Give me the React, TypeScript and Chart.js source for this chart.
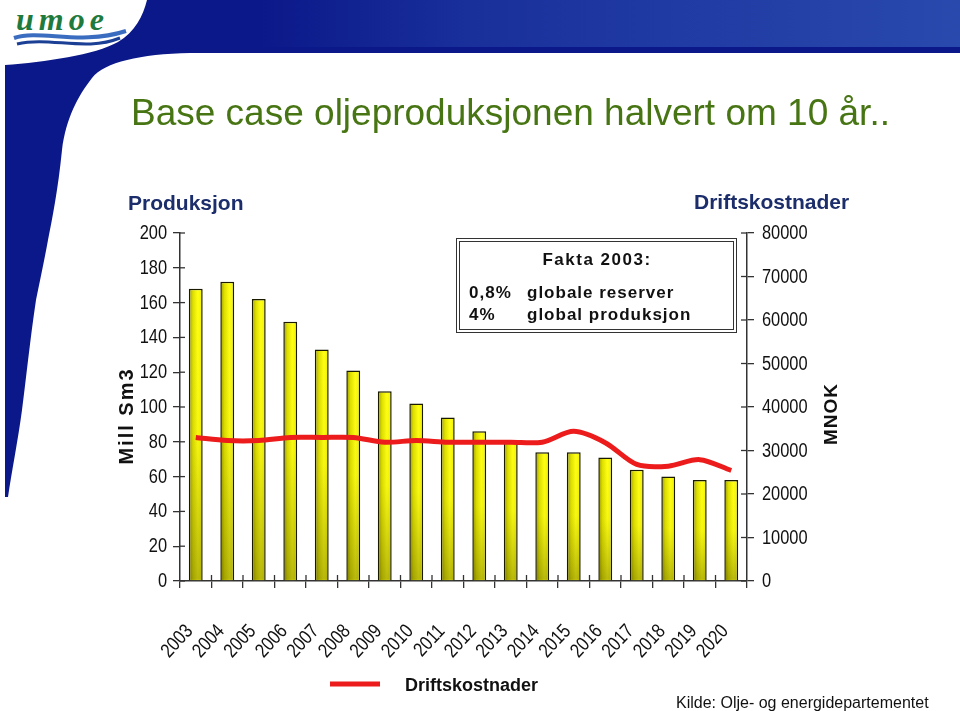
import React, { useEffect, useRef } from "react";
import { Chart, registerables } from "chart.js";

Chart.register(...registerables);

// ---------- data ----------
const years = ["2003", "2004", "2005", "2006", "2007", "2008", "2009", "2010", "2011", "2012", "2013", "2014", "2015", "2016", "2017", "2018", "2019", "2020"];
const produksjon = [168, 172, 162, 149, 133, 121, 109, 102, 94, 86, 80, 74, 74, 71, 64, 60, 58, 58];
const driftskostnader = [33000, 32300, 32300, 33000, 33000, 33000, 31900, 32300, 31900, 31900, 31900, 31900, 34400, 31800, 26800, 26400, 27900, 25400];
const leftMax = 200;
const leftStep = 20;
const rightMax = 80000;
const rightStep = 10000;

const titleText = "Base case oljeproduksjonen halvert om 10 år..";
const leftHeader = "Produksjon";
const rightHeader = "Driftskostnader";
const leftAxisTitle = "Mill Sm3";
const rightAxisTitle = "MNOK";
const faktaTitle = "Fakta 2003:";
const faktaRows = [
  ["0,8%", "globale reserver"],
  ["4%", "global produksjon"],
];
const sourceText = "Kilde: Olje- og energidepartementet";

// ---------- style ----------
const AXIS = "#333333";
const SANS = '"Liberation Sans", Arial, sans-serif';
const NARROW_SCALE = 0.82;
const BAR_PCT = 0.44;
const RED = "#ec1c1c";

function barFill(c: any) {
  const chart = c.chart;
  const xs = chart.scales ? chart.scales.x : null;
  const ca = chart.chartArea;
  if (!xs || !ca || c.dataIndex == null) return "#e6e600";
  const cx = xs.getPixelForValue(c.dataIndex);
  const cw = (ca.right - ca.left) / years.length;
  const half = (cw * BAR_PCT) / 2;
  const g = chart.ctx.createLinearGradient(cx - half, 0, cx + half, 0);
  g.addColorStop(0, "#9a9a00");
  g.addColorStop(0.3, "#e0e000");
  g.addColorStop(0.65, "#ffff14");
  g.addColorStop(1, "#f0f000");
  return g;
}

function narrowText(ctx: any, text: string, x: number, y: number, align: string, rot = 0) {
  ctx.save();
  ctx.translate(x, y);
  if (rot) ctx.rotate(rot);
  ctx.scale(NARROW_SCALE, 1);
  ctx.textAlign = align;
  ctx.textBaseline = "middle";
  ctx.fillText(text, 0, 0);
  ctx.restore();
}

const decor = {
  id: "decor",
  afterDatasetDraw(chart: any, args: any) {
    const ds = chart.data.datasets[args.index];
    if (ds.type !== "bar") return;
    const ctx = chart.ctx;
    ctx.save();
    args.meta.data.forEach((el: any) => {
      const { x, y, base, width } = el.getProps(["x", "y", "base", "width"], true);
      const g = ctx.createLinearGradient(0, y, 0, base);
      g.addColorStop(0, "rgba(60,60,0,0)");
      g.addColorStop(0.5, "rgba(60,60,0,0.04)");
      g.addColorStop(1, "rgba(40,40,0,0.33)");
      ctx.fillStyle = g;
      ctx.fillRect(x - width / 2 + 1.5, y + 1.5, width - 3, base - y - 2);
    });
    ctx.restore();
  },
  afterDraw(chart: any) {
    const ctx = chart.ctx;
    const ca = chart.chartArea;
    const { x: xs, y: ys, y1 } = chart.scales;
    ctx.save();
    // inner halves of the tick marks (ticks cross the axes)
    ctx.strokeStyle = AXIS;
    ctx.lineWidth = 1.3;
    ys.ticks.forEach((_t: any, i: number) => {
      const p = ys.getPixelForTick(i);
      ctx.beginPath();
      ctx.moveTo(ca.left, p);
      ctx.lineTo(ca.left + 5, p);
      ctx.stroke();
    });
    y1.ticks.forEach((_t: any, i: number) => {
      const p = y1.getPixelForTick(i);
      ctx.beginPath();
      ctx.moveTo(ca.right - 6, p);
      ctx.lineTo(ca.right, p);
      ctx.stroke();
    });
    for (let i = 1; i < years.length; i++) {
      const p = (xs.getPixelForTick(i - 1) + xs.getPixelForTick(i)) / 2;
      ctx.beginPath();
      ctx.moveTo(p, ca.bottom - 6);
      ctx.lineTo(p, ca.bottom);
      ctx.stroke();
    }

    // tick labels (narrow type, positioned from the scales)
    ctx.fillStyle = "#111";
    ctx.font = `20px ${SANS}`;
    ys.ticks.forEach((t: any, i: number) => {
      narrowText(ctx, String(t.value), ca.left - 13, ys.getPixelForTick(i) + 0.5, "right");
    });
    y1.ticks.forEach((t: any, i: number) => {
      narrowText(ctx, String(t.value), ca.right + 15, y1.getPixelForTick(i) + 0.5, "left");
    });
    const ang = (-47 * Math.PI) / 180;
    xs.ticks.forEach((_t: any, i: number) => {
      const lbl = String(chart.data.labels[i]);
      narrowText(ctx, lbl, xs.getPixelForTick(i) - 6, ca.bottom + 47, "right", ang);
    });

    // title
    ctx.textAlign = "left";
    ctx.textBaseline = "alphabetic";
    ctx.fillStyle = "#477513";
    ctx.font = `37px ${SANS}`;
    ctx.fillText(titleText, 131, 125);

    // axis headers
    ctx.fillStyle = "#1c2d6b";
    ctx.font = `bold 21px ${SANS}`;
    ctx.fillText(leftHeader, 128, 210);
    ctx.fillText(rightHeader, 694, 209);

    // axis titles (rotated)
    ctx.fillStyle = "#111";
    ctx.font = `bold 20px ${SANS}`;
    (ctx as any).letterSpacing = "2px";
    ctx.save();
    ctx.translate(133, 416);
    ctx.rotate(-Math.PI / 2);
    ctx.textAlign = "center";
    ctx.fillText(leftAxisTitle, 0, 0);
    ctx.restore();
    (ctx as any).letterSpacing = "1px";
    ctx.save();
    ctx.translate(837, 414);
    ctx.rotate(-Math.PI / 2);
    ctx.textAlign = "center";
    ctx.font = `bold 19px ${SANS}`;
    ctx.fillText(rightAxisTitle, 0, 0);
    ctx.restore();

    // fakta box
    ctx.fillStyle = "#fff";
    ctx.fillRect(456, 238, 281, 95);
    ctx.strokeStyle = "#333";
    ctx.lineWidth = 1;
    ctx.strokeRect(456.5, 238.5, 280, 94);
    ctx.strokeRect(459.5, 241.5, 274, 88);
    ctx.fillStyle = "#111";
    ctx.font = `bold 17px ${SANS}`;
    (ctx as any).letterSpacing = "1.5px";
    ctx.textAlign = "center";
    ctx.fillText(faktaTitle, 597, 265);
    ctx.textAlign = "left";
    (ctx as any).letterSpacing = "1px";
    faktaRows.forEach((row, i) => {
      const yy = 298 + i * 22;
      ctx.fillText(row[0], 469, yy);
      ctx.fillText(row[1], 527, yy);
    });
    (ctx as any).letterSpacing = "0px";

    // legend
    const lineDs = chart.data.datasets[0];
    ctx.strokeStyle = lineDs.borderColor;
    ctx.lineWidth = 5;
    ctx.lineCap = "butt";
    ctx.beginPath();
    ctx.moveTo(330, 684);
    ctx.lineTo(380, 684);
    ctx.stroke();
    ctx.fillStyle = "#111";
    ctx.font = `bold 18px ${SANS}`;
    ctx.fillText(lineDs.label, 405, 691);

    // source
    ctx.font = `16px ${SANS}`;
    ctx.fillText(sourceText, 676, 708);
    ctx.restore();
  },
};

function Header() {
  return (
    <svg width={960} height={711} style={{ position: "absolute", left: 0, top: 0 }}>
      <defs>
        <linearGradient id="hdrTex" x1="0" x2="1" y1="0" y2="0">
          <stop offset="0" stopColor="#3a66c4" stopOpacity="0" />
          <stop offset="0.3" stopColor="#3a66c4" stopOpacity="0.3" />
          <stop offset="0.6" stopColor="#3a66c4" stopOpacity="0.45" />
          <stop offset="1" stopColor="#4272cc" stopOpacity="0.55" />
        </linearGradient>
      </defs>
      <path
        d="M147,0 L960,0 L960,53 L190,53 C140,54 105,62 92,78 C78,96 66,118 62,150 C58,190 52,220 48,240 C44,262 40,280 36,300 C30,340 26,380 22,410 C18,440 12,470 8,497 L5,497 L5,65 C45,62 95,55 118,42 C135,32 143,16 147,0 Z"
        fill="#0b1889"
      />
      <rect x={260} y={0} width={700} height={47} fill="url(#hdrTex)" />
      <text x={16} y={30} fontFamily='"Liberation Serif", serif' fontStyle="italic" fontWeight="bold" fontSize={32} fill="#1f7a3e" letterSpacing={5}>
        umoe
      </text>
      <path d="M14,38 C40,29 80,46 126,31" stroke="#3a6cc0" strokeWidth={4} fill="none" />
      <path d="M17,44 C50,36 85,52 120,38" stroke="#1a3f95" strokeWidth={3} fill="none" />
    </svg>
  );
}

export default function App() {
  const ref = useRef<HTMLCanvasElement | null>(null);
  useEffect(() => {
    if (!ref.current) return;
    const grid = { display: true, drawOnChartArea: false, drawTicks: true, tickLength: 7, color: AXIS, lineWidth: 1.3 };
    const border = { display: true, color: AXIS, width: 1.5 };
    const chart = new Chart(ref.current, {
      type: "bar",
      data: {
        labels: years,
        datasets: [
          {
            type: "line",
            label: "Driftskostnader",
            data: driftskostnader,
            yAxisID: "y1",
            borderColor: RED,
            borderWidth: 5,
            pointRadius: 0,
            tension: 0.3,
            order: 0,
            borderJoinStyle: "round",
          } as any,
          {
            type: "bar",
            label: "Produksjon",
            data: produksjon,
            yAxisID: "y",
            backgroundColor: barFill as any,
            borderColor: "#1a1a00",
            borderWidth: 1.5,
            borderSkipped: "bottom",
            barPercentage: BAR_PCT,
            categoryPercentage: 1,
            order: 1,
          } as any,
        ],
      },
      options: {
        animation: false,
        responsive: false,
        devicePixelRatio: 1,
        layout: { padding: { left: 100, right: 143, top: 233, bottom: 50 } },
        plugins: { legend: { display: false }, tooltip: { enabled: false } },
        scales: {
          x: {
            offset: true,
            grid: { ...grid, offset: true },
            border,
            ticks: { display: false, autoSkip: false },
            afterFit: (s: any) => {
              s.height = 80;
            },
          },
          y: {
            position: "left",
            min: 0,
            max: leftMax,
            grid,
            border,
            ticks: { display: false, stepSize: leftStep },
            afterFit: (s: any) => {
              s.width = 80;
            },
          },
          y1: {
            position: "right",
            min: 0,
            max: rightMax,
            grid,
            border,
            ticks: { display: false, stepSize: rightStep },
            afterFit: (s: any) => {
              s.width = 70;
            },
          },
        },
      } as any,
      plugins: [decor as any],
    });
    return () => chart.destroy();
  }, []);

  return (
    <div style={{ position: "fixed", left: 0, top: 0, width: 960, height: 711, background: "#fff", overflow: "hidden" }}>
      <Header />
      <canvas ref={ref} width={960} height={711} style={{ position: "absolute", left: 0, top: 0, width: 960, height: 711 }} />
    </div>
  );
}
